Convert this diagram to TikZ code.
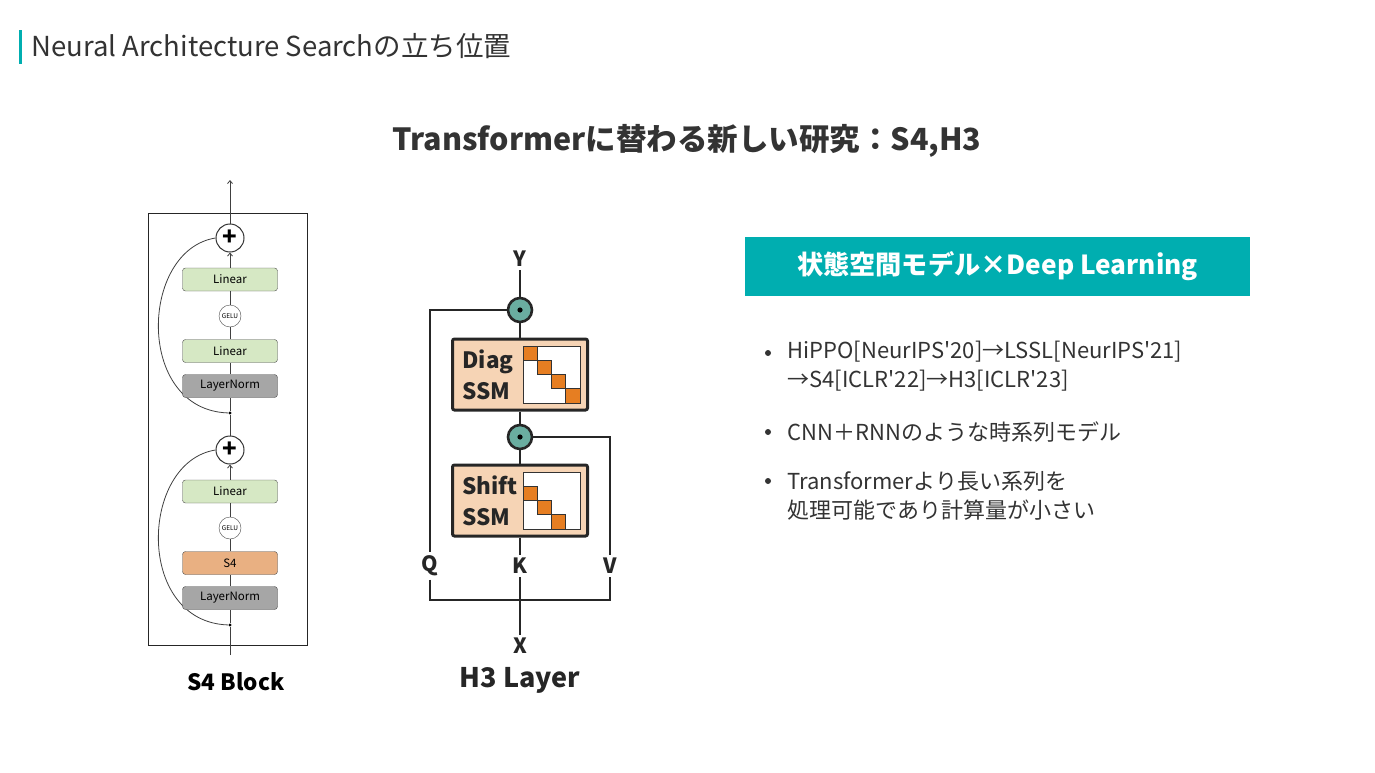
\documentclass[tikz,border=0pt]{standalone}
\usepackage{fontspec}
\setmainfont{Noto Sans CJK JP}[Ligatures=TeXOff]
\usetikzlibrary{arrows.meta,positioning,calc}

\definecolor{accent}{RGB}{0,174,176}
\definecolor{textgray}{RGB}{51,51,51}
\definecolor{boxgreen}{RGB}{214,232,196}
\definecolor{boxgray}{RGB}{166,166,166}
\definecolor{boxorange}{RGB}{233,176,130}
\definecolor{ssmfill}{RGB}{246,212,181}
\definecolor{ssmorange}{RGB}{230,126,34}
\definecolor{multfill}{RGB}{106,173,160}

\begin{document}
\begin{tikzpicture}[x=1pt, y=-1pt,
  s4box/.style={draw=black!70, rounded corners=3, minimum width=95,
    minimum height=23, inner sep=0, font=\fontsize{11.5}{11.5}\selectfont},
  geluc/.style={circle, draw=black!70, fill=white, minimum size=22,
    inner sep=0, font=\fontsize{6.5}{6.5}\selectfont},
  plusc/.style={circle, draw=black!80, line width=1, fill=white,
    minimum size=28, inner sep=0, font=\bfseries\fontsize{24}{24}\selectfont},
  s4line/.style={draw=black!75, line width=0.8},
  h3line/.style={draw=black!85, line width=2.6},
  ssm/.style={draw=black!85, line width=3, fill=ssmfill, rounded corners=2,
    minimum width=135, minimum height=71},
  ssmtext/.style={align=left, font=\bfseries\fontsize{22.5}{31}\selectfont,
    text=black!85},
  mult/.style={circle, draw=black!85, line width=2.6, fill=multfill,
    minimum size=24, inner sep=0},
  qkv/.style={font=\bfseries\fontsize{21}{21}\selectfont, text=black!85},
  bullettext/.style={anchor=west, align=left, text=textgray,
    font=\fontsize{22}{29}\selectfont}
]
  \useasboundingbox (0,0) rectangle (1375,773);

  % page title
  \fill[accent] (19,30) rectangle (22,64);
  \node[anchor=west, text=textgray, font=\fontsize{27.5}{27.5}\selectfont]
    (pagetitle) at (28,46) {Neural Architecture Searchの立ち位置};
  \node[text=textgray, font=\bfseries\fontsize{30.5}{30.5}\selectfont]
    (heading) at (687,141) {Transformerに替わる新しい研究：S4,H3};

  % S4 block
  \draw[black!85, line width=1] (148,213) rectangle (307,645);
  \coordinate (s4in) at (230,655);
  \coordinate (s4out) at (230,180);
  \foreach \dy/\mid/\midfill/\n in {0/Linear/boxgreen/a, 212/S4/boxorange/b} {
    \node[plusc] (plus\n) at (230,238+\dy) {+};
    \node[fill=black, circle, inner sep=1.2] (dot\n) at (230,413+\dy) {};
    \draw[s4line] (dot\n) .. controls +(-95,-3) and +(-76,12) .. (plus\n.west);
    \node[s4box, fill=boxgreen] (lin\n) at (230,279.5+\dy) {Linear};
    \node[geluc] (gelu\n) at (230,316+\dy) {GELU};
    \node[s4box, fill=\midfill] (mid\n) at (230,351+\dy) {\mid};
    \node[s4box, fill=boxgray] (ln\n) at (230,386+\dy) {LayerNorm};
    \draw[s4line] (dot\n) -- (ln\n);
    \draw[s4line] (ln\n) -- (mid\n);
    \draw[s4line] (mid\n) -- (gelu\n);
    \draw[s4line] (gelu\n) -- (lin\n);
    \draw[s4line, -{Straight Barb[length=3,width=5]}] (lin\n) -- (plus\n);
  }
  \draw[s4line] (s4in) -- (dotb);
  \draw[s4line] (plusb) -- (dota);
  \draw[s4line, -{Straight Barb[length=3,width=5]}] (plusa) -- (s4out);
  \node[font=\bfseries\fontsize{22.5}{22.5}\selectfont] (s4title) at (236,682) {S4 Block};

  % H3 layer
  \node[qkv] (Y) at (520,259) {Y};
  \node[mult] (mult1) at (520,310) {};
  \fill[black] (mult1) circle (2.6);
  \node[ssm] (diag) at (520,374.5) {};
  \node[mult] (mult2) at (520,437) {};
  \fill[black] (mult2) circle (2.6);
  \node[ssm] (shift) at (520,500.5) {};
  \node[ssmtext, anchor=west] (diagtxt) at (459,374.5) {Diag\\SSM};
  \node[ssmtext, anchor=west] (shifttxt) at (459,500.5) {Shift\\SSM};
  \draw[black!80, fill=white, line width=0.8] (523,346) rectangle (580,403);
  \foreach \i in {0,...,3}
    \draw[black!80, fill=ssmorange, line width=0.6]
      (523+14.25*\i,346+14.25*\i) rectangle ++(14.25,14.25);
  \draw[black!80, fill=white, line width=0.8] (523,472) rectangle (580,529);
  \foreach \i in {0,...,2}
    \draw[black!80, fill=ssmorange, line width=0.6]
      (523+14.25*\i,486.25+14.25*\i) rectangle ++(14.25,14.25);
  \node[qkv] (Q) at (430,566) {Q};
  \node[qkv] (K) at (520,566) {K};
  \node[qkv] (V) at (610,566) {V};
  \node[qkv] (X) at (520,646) {X};
  \coordinate (xjoin) at (520,600);
  \draw[h3line] (Y) -- (mult1);
  \draw[h3line] (mult1) -- (diag);
  \draw[h3line] (diag) -- (mult2);
  \draw[h3line] (mult2) -- (shift);
  \draw[h3line] (shift) -- (K);
  \draw[h3line] (mult1.west) -| (Q.north);
  \draw[h3line] (mult2.east) -| (V.north);
  \draw[h3line] (Q.south) |- (xjoin) -| (V.south);
  \draw[h3line] (K.south) -- (xjoin) -- (X.north);
  \node[font=\bfseries\fontsize{27}{27}\selectfont, text=black!85]
    (h3title) at (520,680) {H3 Layer};

  % right panel
  \node[fill=accent, minimum width=505, minimum height=59, text=white,
    font=\bfseries\fontsize{26.2}{26.2}\selectfont]
    (panelhead) at (997.5,266.5) {状態空間モデル×Deep Learning};
  \foreach \by in {353,432,481}
    \fill[textgray] (768,\by) circle (3);
  \node[bullettext] (item1) at (784,366.5)
    {HiPPO[NeurIPS'20]→LSSL[NeurIPS'21]\\→S4[ICLR'22]→H3[ICLR'23]};
  \node[bullettext] (item2) at (784,432) {CNN＋RNNのような時系列モデル};
  \node[bullettext] (item3) at (784,495.5)
    {Transformerより長い系列を\\処理可能であり計算量が小さい};
\end{tikzpicture}
\end{document}
